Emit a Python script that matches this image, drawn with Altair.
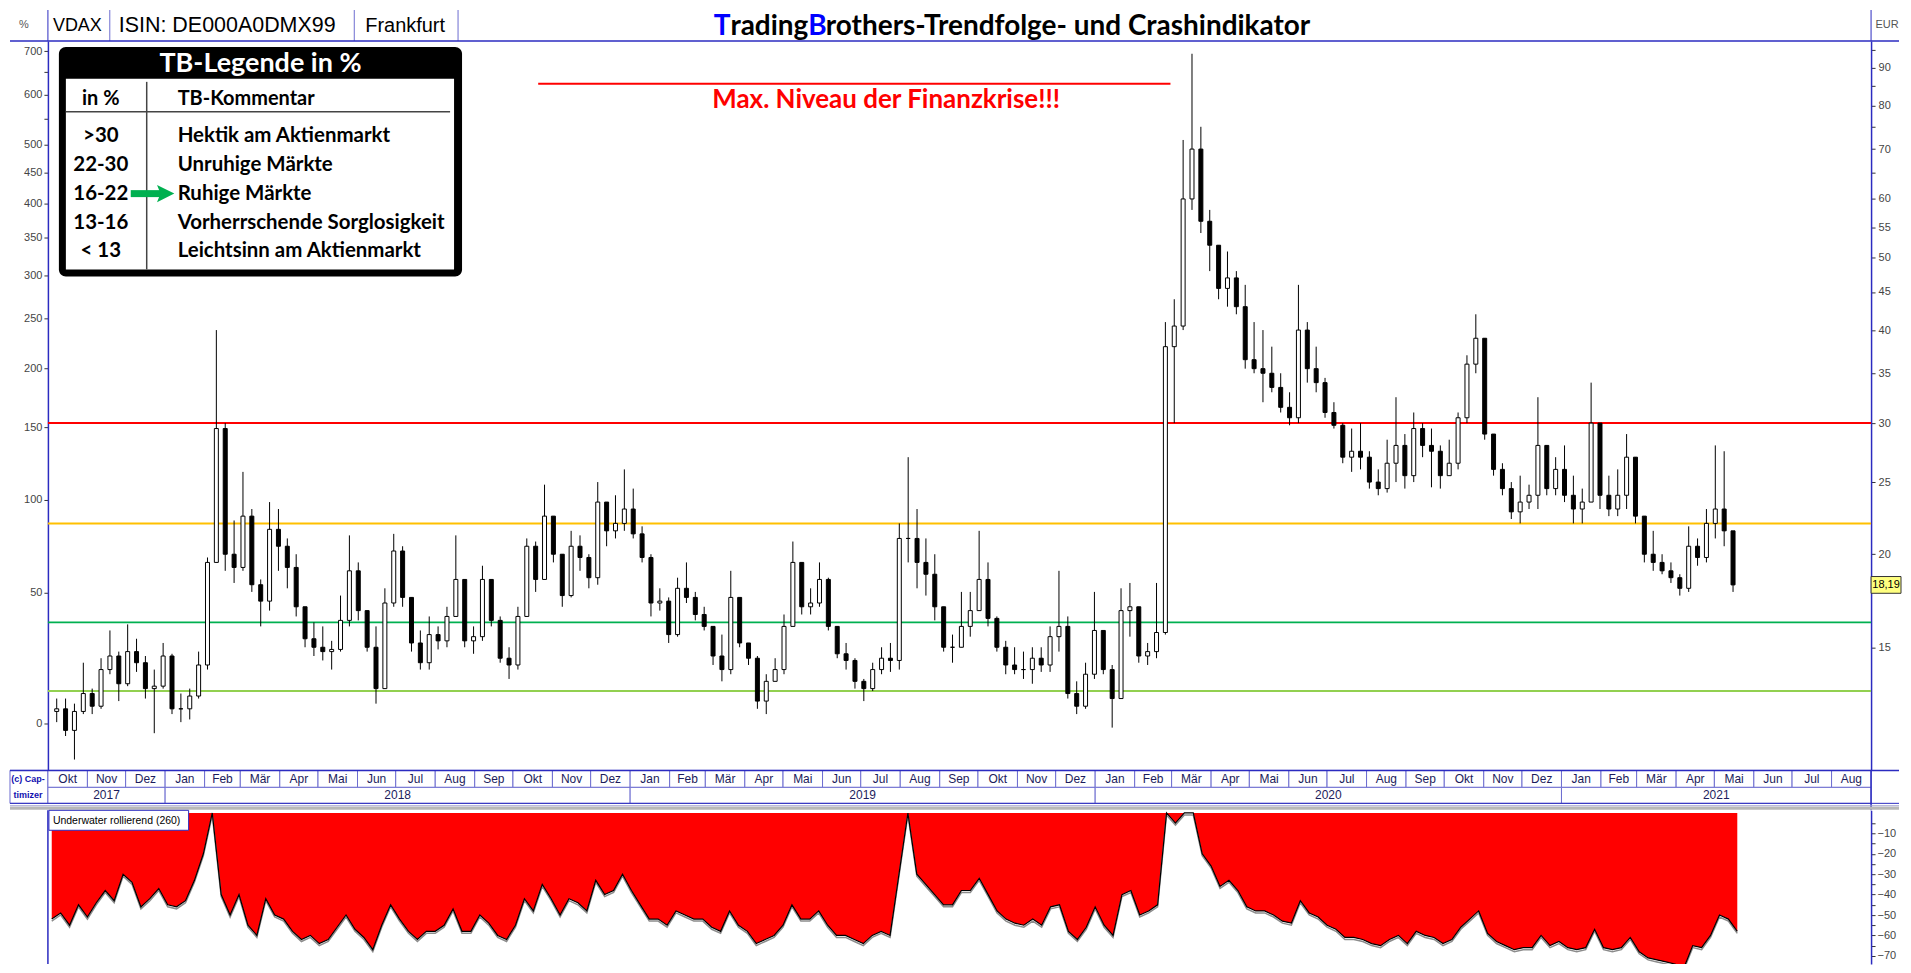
import altair as alt
import pandas as pd

# ---------------- data ----------------
BASE = 11.84          # VDAX level that corresponds to 0 % on the left axis
FIRST_OPEN = 12.3

# weekly candles (one entry per week, Oct 2017 - May 2021)
HIGH = [
    12.8, 12.8, 12.6, 14.3,  13.2, 14.5, 15.8, 14.8,  16.1, 15.4, 14.6, 14.0, 15.2,
    14.7, 13.0, 13.2, 14.8,  19.8, 40.0, 30.0, 22.2,  25.8, 23.0, 18.5, 23.5, 23.0,
    21.0, 20.0, 17.0, 16.2,  16.0, 15.3, 17.6, 21.2,  19.5, 16.8, 16.0, 18.0, 21.3,
    20.5, 17.5, 15.8, 16.5,  16.0, 17.0, 21.2, 18.5, 16.0,  19.3, 18.5, 16.5, 15.0,
    17.0, 21.0, 20.8, 24.8,  22.5, 20.0, 21.5, 21.2, 20.0,  25.0, 23.5, 24.0, 26.0,
    24.5, 21.8, 20.0, 18.0,  17.5, 18.6, 19.5, 17.8,  17.0, 16.0, 15.6, 19.0, 17.5,
    15.2, 14.6, 13.8, 14.5,  16.6, 20.8, 19.5, 18.0, 19.5,  18.6, 16.0, 15.2, 14.5,
    13.6, 14.3, 15.0, 15.2,  22.0, 27.0, 23.0, 21.0, 20.0,  17.0, 15.6, 17.8, 17.8,
    21.5, 19.5, 16.5, 15.3,  15.0, 14.8, 15.0, 15.0, 16.0,  19.0, 16.5, 13.5, 14.3,
    17.8, 15.8, 14.2, 18.0, 18.3,  17.0, 15.2, 18.3, 41.0,  44.0, 72.0, 94.0, 75.0,
    58.0, 52.0, 51.0, 48.0,  46.0, 41.0, 40.0, 38.0, 35.0,  33.0, 46.0, 41.0, 38.0,
    34.5, 32.0, 30.0, 29.5, 30.0,  27.5, 26.0, 28.5, 32.5,  29.0, 31.0, 30.0, 29.5,
    28.0, 28.5, 31.0, 37.0, 42.0,  39.0, 29.0, 26.5, 25.0,  25.5, 24.8, 32.5, 28.0,
    27.0, 28.0, 25.5, 24.5, 34.0,  30.0, 25.5, 26.0, 29.0,  27.0, 22.5, 21.5, 20.0,
    19.5, 18.8, 21.8, 21.0, 23.0,  28.0, 27.5, 21.0,
]
LOW = [
    11.9, 11.4, 10.6, 12.2,  12.2, 12.4, 13.8, 12.7,  13.3, 13.9, 12.8, 11.5, 13.2,
    12.2, 11.9, 12.0, 12.8,  14.0, 19.5, 19.0, 18.3,  19.0, 17.8, 16.0, 16.8, 19.0,
    18.0, 16.5, 15.0, 14.6,  14.4, 14.0, 14.8, 16.0,  16.3, 14.8, 12.6, 13.2, 17.0,
    17.0, 14.8, 14.0, 14.0,  14.9, 15.0, 16.5, 15.0, 14.7,  15.3, 16.0, 14.3, 13.6,
    14.0, 16.5, 17.8, 18.5,  19.5, 17.0, 17.5, 19.0, 18.0,  18.2, 20.5, 21.0, 21.5,
    21.0, 19.5, 16.5, 16.8,  15.2, 15.5, 17.2, 16.3,  15.8, 14.2, 13.5, 13.8, 15.0,
    14.2, 12.4, 12.2, 13.5,  13.8, 16.0, 16.6, 16.6, 17.0,  15.8, 14.5, 14.0, 13.2,
    12.7, 13.1, 13.8, 13.9,  14.0, 19.5, 18.0, 17.6, 16.3,  14.8, 14.3, 15.0, 15.5,
    16.8, 16.0, 14.8, 13.8,  13.8, 13.6, 13.4, 13.9, 13.9,  14.8, 12.8, 12.2, 12.4,
    13.6, 13.8, 11.7, 12.8, 15.5,  14.3, 14.2, 14.5, 15.6,  30.0, 40.0, 58.0, 54.0,
    48.0, 44.0, 43.0, 42.0,  35.5, 35.0, 32.0, 33.0, 31.0,  29.8, 30.0, 34.0, 33.0,
    30.5, 29.5, 26.5, 25.8, 26.0,  24.5, 24.0, 24.2, 25.0,  24.5, 25.0, 27.0, 24.6,
    24.5, 25.5, 26.0, 30.0, 35.0,  28.5, 25.5, 24.0, 22.3,  22.0, 23.0, 23.0, 24.0,
    24.0, 23.5, 22.0, 22.0, 23.5,  23.0, 22.5, 22.5, 23.0,  22.0, 19.5, 19.0, 18.8,
    18.3, 17.6, 17.8, 19.3, 19.5,  21.0, 20.5, 17.8,
]
CLOSE = [
    12.4, 11.6, 12.3, 13.0,  12.5, 14.0, 14.6, 13.4,  14.8, 14.3, 13.2, 13.3, 14.6,
    12.4, 12.4, 12.9, 14.2,  19.5, 29.5, 20.0, 19.2,  22.5, 18.2, 17.3, 21.6, 20.5,
    19.2, 17.0, 15.4, 15.0,  14.8, 14.9, 16.3, 19.0,  16.8, 15.0, 13.2, 17.2, 20.2,
    17.5, 15.2, 14.3, 15.6,  15.3, 16.5, 18.5, 15.3, 15.5,  18.5, 16.3, 14.5, 14.2,
    16.5, 20.5, 18.5, 22.5,  20.0, 17.6, 20.5, 19.8, 18.6,  23.5, 21.5, 22.0, 23.0,
    21.3, 19.8, 17.2, 17.3,  15.6, 18.0, 17.5, 16.6,  16.0, 14.6, 14.0, 17.5, 15.2,
    14.5, 12.7, 13.5, 14.0,  16.0, 19.5, 17.0, 17.2, 18.5,  16.0, 14.7, 14.4, 13.5,
    13.2, 14.0, 14.5, 14.4,  21.0, 21.0, 19.5, 18.8, 17.0,  15.0, 15.0, 16.0, 16.8,
    18.5, 16.4, 15.0, 14.2,  14.0, 14.0, 14.5, 14.2, 15.5,  16.0, 13.0, 12.5, 13.8,
    15.8, 14.0, 12.8, 16.8, 17.0,  14.6, 14.8, 15.7, 38.0,  40.5, 60.0, 70.0, 56.0,
    52.0, 45.5, 47.0, 43.0,  36.5, 35.5, 35.0, 33.5, 31.5,  30.5, 40.0, 35.5, 34.0,
    31.0, 29.8, 27.0, 27.5, 27.0,  25.0, 24.5, 26.5, 28.0,  25.5, 29.5, 28.0, 27.5,
    25.5, 26.5, 30.5, 36.0, 39.0,  29.0, 26.0, 24.5, 22.8,  23.5, 24.0, 28.0, 24.5,
    26.0, 24.0, 23.0, 23.5, 30.0,  24.0, 23.0, 24.0, 27.0,  22.5, 20.0, 19.5, 19.0,
    18.6, 18.0, 20.5, 19.8, 22.0,  23.0, 21.5, 18.19,
]
# "Underwater rollierend (260)" in %, one value per week
UNDERWATER = [
    -52, -49, -55, -45,  -51, -44, -38, -43,  -30, -34, -46, -42, -37,
    -45, -46, -43, -33,  -20, 0, -40, -50,  -40, -55, -60, -42, -50,
    -52, -58, -62, -60,  -64, -62, -56, -50,  -57, -61, -67, -55, -45,
    -52, -58, -62, -58,  -58, -55, -47, -58, -58,  -50, -54, -60, -62,
    -55, -42, -48, -35,  -42, -50, -42, -44, -48,  -33, -40, -38, -30,
    -38, -45, -52, -52,  -55, -48, -50, -52,  -52, -56, -58, -48, -55,
    -58, -64, -62, -60,  -55, -45, -52, -52, -48,  -55, -60, -60, -62,
    -64, -60, -58, -60,  -30, 0, -30, -35, -40,  -45, -45, -38, -38,
    -32, -40, -48, -52,  -54, -55, -52, -55, -46,  -45, -58, -62, -56,
    -46, -55, -60, -40, -38,  -50, -48, -45, 0,  -5, 0, 0, -20,
    -26, -36, -33, -38,  -46, -48, -48, -50, -53,  -54, -43, -49, -51,
    -55, -57, -61, -61, -62,  -64, -65, -62, -60,  -64, -58, -60, -61,
    -64, -62, -56, -52, -48,  -59, -63, -65, -67,  -66, -66, -60, -65,
    -63, -66, -67, -66, -57,  -66, -67, -66, -61,  -68, -71, -72, -73,
    -74, -76, -65, -66, -60,  -50, -52, -58,
]

LEVELS = [30, 22, 16.2, 13.1]
LEVEL_COLORS = ["#ff0000", "#ffc000", "#00b050", "#92d050"]
MAX_LEVEL = 85.7
MAX_START, MAX_END = "2018-10-19", "2020-03-01"
MAX_TEXT = "Max. Niveau der Finanzkrise!!!"

LEFT_PCT_MAJOR = [0, 50, 100, 150, 200, 250, 300, 350, 400, 450, 500, 600, 700]
LEFT_PCT_MINOR = [550, 650]
RIGHT_MAJOR = [15, 20, 25, 30, 35, 40, 45, 50, 55, 60, 70, 80, 90]
RIGHT_MINOR = [65, 75, 85, 95]
UW_TICKS = [-5, -10, -15, -20, -25, -30, -35, -40, -45, -50, -55, -60, -65, -70]

TITLE_PARTS = ["T", "rading", "B", "rothers-Trendfolge- und Crashindikator"]
TITLE_COLORS = ["#0000ff", "black", "#0000ff", "black"]
LEGEND_TITLE = "TB-Legende in %"
LEGEND_HEAD = ["in %", "TB-Kommentar"]
LEGEND_RANGES = [">30", "22-30", "16-22", "13-16", "< 13"]
LEGEND_TEXT = ["Hektik am Aktienmarkt", "Unruhige Märkte", "Ruhige Märkte",
               "Vorherrschende Sorglosigkeit", "Leichtsinn am Aktienmarkt"]

MONTH_ABBR = ["Jan", "Feb", "Mär", "Apr", "Mai", "Jun", "Jul", "Aug", "Sep", "Okt", "Nov", "Dez"]
X_START, X_END = "2017-10-01", "2021-09-01"
YEARS = [2017, 2018, 2019, 2020, 2021]

# ---------------- tables ----------------
def ms(s):
    return int(pd.Timestamp(s, tz="UTC").timestamp() * 1000)

n = len(CLOSE)
assert len(HIGH) == n and len(LOW) == n and len(UNDERWATER) == n
dates = pd.date_range("2017-10-04", periods=n, freq="7D", tz="UTC")
df = pd.DataFrame({
    "date": [int(d.timestamp() * 1000) for d in dates],
    "open": [FIRST_OPEN] + CLOSE[:-1],
    "high": HIGH, "low": LOW, "close": CLOSE, "uw": UNDERWATER,
})

mstarts = pd.date_range(X_START, "2021-08-01", freq="MS", tz="UTC")
dfm = pd.DataFrame({
    "start": [int(d.timestamp() * 1000) for d in mstarts],
    "end": [int((d + pd.offsets.MonthBegin(1)).timestamp() * 1000) for d in mstarts],
    "label": [MONTH_ABBR[d.month - 1] for d in mstarts],
})
dfm["mid"] = (dfm["start"] + dfm["end"]) / 2
ys = [max(ms(f"{y}-01-01"), ms(X_START)) for y in YEARS]
ye = [min(ms(f"{y + 1}-01-01"), ms(X_END)) for y in YEARS]
dfy = pd.DataFrame({"start": ys, "end": ye, "label": [str(y) for y in YEARS]})
dfy["mid"] = (dfy["start"] + dfy["end"]) / 2

# ---------------- styling ----------------
W = 1827
H_HEAD, H_MAIN, H_BAND, H_UW = 31, 731, 40, 154
BLUE = "#2b2bc0"
SEP = "#6c6cd0"
LBL = dict(labelFont="Liberation Sans", labelFontSize=11, labelColor="#444444")
CAL = "Lato"
ONE = pd.DataFrame({"k": [0]})

xscale = alt.Scale(type="utc", domain=[ms(X_START), ms(X_END)])
yscale = alt.Scale(type="log", domain=[10.25, 97.8], nice=False, zero=False)
uwscale = alt.Scale(domain=[-74, 1.3], nice=False, zero=False)


def txt(s, x, y, size=12, color="black", font="Liberation Sans", weight="normal", align="left"):
    return alt.Chart(ONE).mark_text(text=s, fontSize=size, color=color, font=font,
                                    fontWeight=weight, align=align, baseline="middle").encode(
        x=alt.value(x), y=alt.value(y))


def vline(x, y0, y1, color=SEP, w=1):
    return alt.Chart(ONE).mark_rule(color=color, strokeWidth=w).encode(
        x=alt.value(x), y=alt.value(y0), y2=alt.value(y1))


def hline(y, x0, x1, color=BLUE, w=1):
    return alt.Chart(ONE).mark_rule(color=color, strokeWidth=w).encode(
        y=alt.value(y), x=alt.value(x0), x2=alt.value(x1))


def box(x0, x1, y0, y1, fill, stroke=None, r=0):
    kw = dict(fill=fill, cornerRadius=r)
    if stroke:
        kw.update(stroke=stroke, strokeWidth=1)
    return alt.Chart(ONE).mark_rect(**kw).encode(
        x=alt.value(x0), x2=alt.value(x1), y=alt.value(y0), y2=alt.value(y1))


# ---------------- header ----------------
TS = 28          # title font size
TY = 17.5        # title vertical centre inside the header
A2 = 762         # boundary between "rading" and "B"
title_layers = [
    txt(TITLE_PARTS[0], A2 - 78, TY, size=TS, font=CAL, weight="bold", color=TITLE_COLORS[0], align="right"),
    txt(TITLE_PARTS[1], A2, TY, size=TS, font=CAL, weight="bold", color=TITLE_COLORS[1], align="right"),
    txt(TITLE_PARTS[2], A2, TY, size=TS, font=CAL, weight="bold", color=TITLE_COLORS[2], align="left"),
    txt(TITLE_PARTS[3], A2 + 17.5, TY, size=TS, font=CAL, weight="bold", color=TITLE_COLORS[3], align="left"),
]
header = alt.layer(
    txt("%", -24, 15, size=11, color="#555555", align="center"),
    vline(0, 0, H_HEAD, color=BLUE), vline(W, 0, H_HEAD, color=BLUE),
    vline(62, 0, H_HEAD), vline(307, 0, H_HEAD), vline(411, 0, H_HEAD),
    txt("VDAX", 5, 16, size=18),
    txt("ISIN: DE000A0DMX99", 71, 16, size=21.5),
    txt("Frankfurt", 318, 16, size=20),
    *title_layers,
    txt("EUR", W + 16, 15, size=11, color="#555555", align="center"),
).properties(width=W, height=H_HEAD)

# ---------------- main price panel ----------------
pexpr = f"round((datum.value/{BASE}-1)*100)"
left_axis = alt.Axis(orient="left", values=[BASE * (1 + p / 100) for p in LEFT_PCT_MAJOR + LEFT_PCT_MINOR],
                     labelExpr=f"indexof({LEFT_PCT_MINOR}, {pexpr}) >= 0 ? '' : format({pexpr}, 'd')",
                     title=None, grid=False, domainColor=BLUE, domainWidth=1.5, tickColor="#333333",
                     tickSize=4, labelPadding=2, **LBL)
right_axis = alt.Axis(orient="right", values=RIGHT_MAJOR + RIGHT_MINOR,
                      labelExpr=f"indexof({RIGHT_MINOR}, datum.value) >= 0 ? '' : format(datum.value, 'd')",
                      title=None, grid=False, domainColor=BLUE, domainWidth=1.5, tickColor="#333333",
                      tickSize=4, labelPadding=3, **LBL)

cand = alt.Chart(df)
wicks = cand.mark_rule(color="black", strokeWidth=1).encode(
    x=alt.X("date:T", scale=xscale, axis=None),
    y=alt.Y("low:Q", scale=yscale, axis=left_axis), y2="high:Q")
bodies = cand.mark_bar(size=4, stroke="black", strokeWidth=1).encode(
    x=alt.X("date:T", scale=xscale, axis=None),
    y=alt.Y("open:Q", scale=yscale, axis=None), y2="close:Q",
    fill=alt.condition("datum.close >= datum.open", alt.value("white"), alt.value("black")))

lv = pd.DataFrame({"level": LEVELS, "color": LEVEL_COLORS})
levels = alt.Chart(lv).mark_rule(strokeWidth=2).encode(
    y=alt.Y("level:Q", scale=yscale, axis=right_axis),
    color=alt.Color("color:N", scale=None))

mx = pd.DataFrame({"start": [ms(MAX_START)], "end": [ms(MAX_END)], "level": [MAX_LEVEL]})
maxrule = alt.Chart(mx).mark_rule(color="#ff0000", strokeWidth=2).encode(
    x=alt.X("start:T", scale=xscale, axis=None), x2="end:T",
    y=alt.Y("level:Q", scale=yscale, axis=None))

last = pd.DataFrame({"v": [CLOSE[-1]], "t": [f"{CLOSE[-1]:.2f}".replace(".", ",")]})
lastbox = alt.Chart(last).mark_point(shape="M-1,-0.56H1V0.56H-1Z", size=900, filled=True,
                                     fill="#ffff80", stroke="#333333", strokeWidth=1, opacity=1).encode(
    x=alt.value(W + 15), y=alt.Y("v:Q", scale=yscale, axis=None))
lasttxt = alt.Chart(last).mark_text(font="Liberation Sans", fontSize=11, color="black").encode(
    x=alt.value(W + 15), y=alt.Y("v:Q", scale=yscale, axis=None), text="t:N")

legend_layers = [
    box(11, 415, 6, 236, "black", r=7),
    box(18, 407, 38, 229, "white"),
    txt(LEGEND_TITLE, 213, 23, size=27, color="white", font=CAL, weight="bold", align="center"),
    txt(LEGEND_HEAD[0], 53, 58, size=20, font=CAL, weight="bold", align="center"),
    txt(LEGEND_HEAD[1], 130, 58, size=20, font=CAL, weight="bold"),
    vline(99, 41, 229, color="#444444", w=1.5),
    hline(71, 18, 403, color="#444444", w=1.5),
]
for i, (r, t) in enumerate(zip(LEGEND_RANGES, LEGEND_TEXT)):
    yy = 95 + i * 29
    legend_layers.append(txt(r, 53, yy, size=20.5, font=CAL, weight="bold", align="center"))
    legend_layers.append(txt(t, 130, yy, size=20.5, font=CAL, weight="bold"))
legend_layers.append(alt.Chart(ONE).mark_rule(color="#00b050", strokeWidth=7).encode(
    x=alt.value(83), x2=alt.value(114), y=alt.value(153)))
legend_layers.append(alt.Chart(ONE).mark_point(shape="M-1,-1L1,0L-1,1L-0.6,0Z", size=300, filled=True,
                                               color="#00b050", opacity=1).encode(
    x=alt.value(118), y=alt.value(153)))

main = alt.layer(
    hline(0, -38, W + 28, color=BLUE, w=1.5),
    levels, wicks, bodies, maxrule,
    txt(MAX_TEXT, 840, 59, size=26, color="#ff0000", font=CAL, weight="bold", align="center"),
    lastbox, lasttxt,
    *legend_layers,
).resolve_scale(y="shared").resolve_axis(y="independent").properties(width=W, height=H_MAIN)

# ---------------- month / year band ----------------
mrect = alt.Chart(dfm).mark_rect(fill="white", stroke=SEP, strokeWidth=1).encode(
    x=alt.X("start:T", scale=xscale, axis=None), x2="end:T", y=alt.value(0), y2=alt.value(17))
mtext = alt.Chart(dfm).mark_text(font="Liberation Sans", fontSize=12, color="#1c1c5c").encode(
    x=alt.X("mid:T", scale=xscale, axis=None), y=alt.value(9), text="label:N")
yrect = alt.Chart(dfy).mark_rect(fill="white", stroke=SEP, strokeWidth=1).encode(
    x=alt.X("start:T", scale=xscale, axis=None), x2="end:T", y=alt.value(17), y2=alt.value(33))
ytext = alt.Chart(dfy).mark_text(font="Liberation Sans", fontSize=12, color="#1c1c5c").encode(
    x=alt.X("mid:T", scale=xscale, axis=None), y=alt.value(25), text="label:N")
band = alt.layer(
    box(-38, 0, 0, 33, "white", stroke=SEP),
    mrect, mtext, yrect, ytext,
    hline(0, -38, W + 28, color=BLUE, w=1.5),
    hline(33, -38, W + 28, color=BLUE, w=1),
    txt("(c) Cap-", -20, 9, size=9, color="#1010b0", weight="bold", align="center"),
    txt("timizer", -20, 25, size=9, color="#1010b0", weight="bold", align="center"),
    vline(W, 0, H_BAND, color=BLUE, w=1.5),
    hline(35.5, -38, W + 28, color="#9a9ac8", w=1),
    hline(38, -38, W + 28, color="#b8b8b8", w=3),
).properties(width=W, height=H_BAND)

# ---------------- underwater panel ----------------
uw_axis = alt.Axis(orient="right", values=UW_TICKS,
                   labelExpr="datum.value % 10 == 0 ? format(datum.value, 'd') : ''",
                   title=None, grid=False, domainColor=BLUE, domainWidth=1.5, tickColor="#333333",
                   tickSize=4, labelPadding=2, **LBL)
uwc = alt.Chart(df)
uw_area = uwc.mark_area(color="#ff0000", clip=True, opacity=1).encode(
    x=alt.X("date:T", scale=xscale, axis=None),
    y=alt.Y("uw:Q", scale=uwscale, axis=uw_axis), y2=alt.datum(0))
uw_shadow = uwc.mark_line(color="#8c8c8c", strokeWidth=1.5, yOffset=2, clip=True).encode(
    x=alt.X("date:T", scale=xscale, axis=None), y=alt.Y("uw:Q", scale=uwscale, axis=None))
uw_line = uwc.mark_line(color="black", strokeWidth=1.2, clip=True).encode(
    x=alt.X("date:T", scale=xscale, axis=None), y=alt.Y("uw:Q", scale=uwscale, axis=None))
bottom = alt.layer(
    uw_area, uw_shadow, uw_line,
    vline(0, 0, H_UW, color=BLUE, w=1.5),
    box(1, 141, 0, 20, "white", stroke=BLUE),
    txt("Underwater rollierend (260)", 5, 10.5, size=10.5, color="black"),
).resolve_scale(y="shared").resolve_axis(y="independent").properties(width=W, height=H_UW)

chart = alt.vconcat(header, main, band, bottom, spacing=0, bounds="flush").properties(
    padding=0, background="white"
).configure_view(stroke=None)

chart.save("out.html", embed_options={"renderer": "svg", "actions": False})
